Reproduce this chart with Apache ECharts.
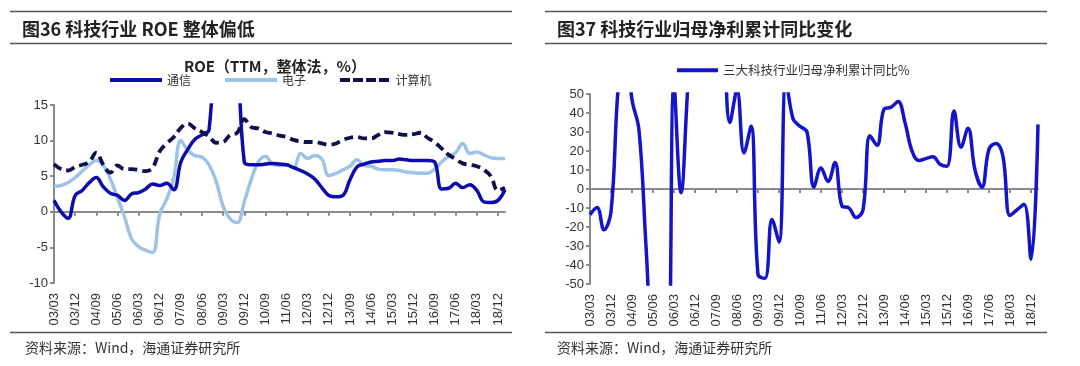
<!DOCTYPE html>
<html><head><meta charset="utf-8">
<script src="https://cdn.jsdelivr.net/npm/echarts@6/dist/echarts.min.js"></script>
<style>html,body{margin:0;padding:0;background:#fff}#c{width:1080px;height:366px}</style>
</head><body><div id="c"></div>
<script>
// Quarterly categories 03/03 .. 19/03
const quarters = ['03/03','03/06','03/09','03/12','04/03','04/06','04/09','04/12','05/03','05/06','05/09','05/12',
  '06/03','06/06','06/09','06/12','07/03','07/06','07/09','07/12','08/03','08/06','08/09','08/12',
  '09/03','09/06','09/09','09/12','10/03','10/06','10/09','10/12','11/03','11/06','11/09','11/12',
  '12/03','12/06','12/09','12/12','13/03','13/06','13/09','13/12','14/03','14/06','14/09','14/12',
  '15/03','15/06','15/09','15/12','16/03','16/06','16/09','16/12','17/03','17/06','17/09','17/12',
  '18/03','18/06','18/09','18/12','19/03'];

// Fig 36: ROE (TTM, %)
const tongxin = [1.6,0.0,-0.9,2.3,3.0,4.1,4.8,3.5,2.6,2.3,
  1.6,2.5,2.7,3.2,3.9,3.7,4.0,3.1,7.0,8.8,
  10.2,10.8,11.5,28,35,35,24,7.0,6.6,6.6,
  6.7,6.8,6.7,6.6,6.2,5.8,5.3,4.6,3.4,2.3,
  2.1,2.3,4.5,6.3,6.7,7.0,7.1,7.2,7.2,7.4,
  7.3,7.2,7.2,7.2,7.0,3.2,3.3,4.0,3.4,3.8,
  3.0,1.4,1.3,1.6,3.1];
const dianzi = [3.6,3.7,4.1,4.8,5.7,6.6,7.2,6.5,4.6,2.0,
  -0.7,-3.8,-4.9,-5.4,-5.7,-0.3,1.8,4.8,10.0,8.6,
  7.9,7.7,6.6,4.3,0.8,-1.0,-1.5,1.4,4.6,7.0,
  7.8,6.7,6.5,6.6,6.2,8.2,7.5,7.9,7.4,5.1,
  5.4,5.9,6.4,7.3,6.5,6.4,6.0,5.9,5.9,5.8,
  5.6,5.5,5.4,5.4,6.0,7.0,7.8,8.3,9.6,8.2,
  8.4,8.0,7.6,7.5,7.5];
const jisuanji = [6.7,6.0,5.8,6.3,6.6,7.0,8.3,6.6,5.5,6.5,
  6.0,6.0,5.9,5.7,6.2,8.5,9.6,10.5,11.8,12.4,
  11.7,11.2,10.6,9.7,9.8,10.8,11.1,13.0,11.9,11.7,
  11.2,11.0,10.7,10.5,10.1,9.9,9.8,9.8,9.6,9.4,
  9.6,10.1,10.4,10.5,10.3,10.3,10.8,11.2,11.1,10.9,
  10.8,10.9,11.1,10.4,9.8,8.9,8.0,7.4,6.8,6.6,
  6.4,5.9,5.0,3.0,3.4];

// Fig 37: cumulative YoY net profit (%)
const profitYoY = [-13.5,-9.8,-21.5,-12,52,80,47,31,-30,-90,
  -100,-100,55,-2,55,100,150,150,120,90,
  35,52,19,33,-45,-47,-16,-28,58,37,
  33,30,1,11,4,14,-9,-10,-15,-11,
  28,23,42,43,46,35,20,15,16,17,
  13,12,41,22,32,10,1,21,24,17,
  -14,-11,-8,-37,34];

const roeAxis = {min:-10, max:15, step:5};
const yoyAxis = {min:-50, max:50, step:10};

const CJK = '"Noto Sans CJK SC", sans-serif';
const LAT = '"Liberation Sans", Arial, sans-serif';
const axisGray = '#8a8a8a';

function labelAxis(grid){
  return {gridIndex:grid, type:'category', data:quarters, boundaryGap:false, position:'bottom',
    axisLine:{show:false, onZero:false}, axisTick:{show:false},
    axisLabel:{interval:2, rotate:90, margin:10, fontSize:13, color:'#333', fontFamily:LAT}};
}
function zeroAxis(grid){
  return {gridIndex:grid, type:'category', data:quarters, boundaryGap:false, position:'bottom',
    axisLine:{show:true, onZero:true, lineStyle:{color:axisGray, width:2}},
    axisTick:{show:true, interval:2, length:4, lineStyle:{color:axisGray, width:2}},
    axisLabel:{show:false}};
}
function valAxis(grid, a){
  return {gridIndex:grid, type:'value', min:a.min, max:a.max, interval:a.step,
    axisLine:{show:true, lineStyle:{color:axisGray, width:2}},
    axisTick:{show:true, length:4, lineStyle:{color:axisGray, width:2}},
    splitLine:{show:false},
    axisLabel:{fontSize:13, color:'#333', margin:6, fontFamily:LAT}};
}

const dashIcon = 'path://M0,0H10V4H0Z M13,0H23V4H13Z M26,0H36V4H26Z M39,0H49V4H39Z';

const chart = echarts.init(document.getElementById('c'), null, {renderer:'canvas'});
chart.setOption({
  backgroundColor:'#fff',
  animation:false,
  title:[
    {text:'图36 科技行业 ROE 整体偏低', left:22, top:20, padding:0,
      textStyle:{fontSize:18, fontWeight:'bold', color:'#222', fontFamily:CJK}},
    {text:'图37 科技行业归母净利累计同比变化', left:557, top:20, padding:0,
      textStyle:{fontSize:18, fontWeight:'bold', color:'#222', fontFamily:CJK}},
    {text:'ROE（TTM，整体法，%）', left:184, top:59, padding:0,
      textStyle:{fontSize:15, fontWeight:'bold', color:'#222', fontFamily:CJK}}
  ],
  legend:[
    {left:110, top:74, padding:0, itemWidth:52, itemHeight:4, itemGap:34,
      textStyle:{fontSize:12, color:'#333', fontFamily:CJK, padding:[-1,0,0,0]},
      data:[{name:'通信', icon:'rect'},{name:'电子', icon:'rect'},{name:'计算机', icon:dashIcon}]},
    {left:677, top:64, padding:0, itemWidth:41, itemHeight:4,
      textStyle:{fontSize:12.5, color:'#333', fontFamily:CJK, padding:[-1,0,0,0]},
      data:[{name:'三大科技行业归母净利累计同比%', icon:'rect'}]}
  ],
  grid:[
    {left:54, top:105, width:451, height:178},
    {left:590, top:94, width:448, height:190}
  ],
  xAxis:[labelAxis(0), zeroAxis(0), labelAxis(1), zeroAxis(1)],
  yAxis:[valAxis(0, roeAxis), valAxis(1, yoyAxis)],
  series:[
    {name:'电子', type:'line', xAxisIndex:0, yAxisIndex:0, data:dianzi, smooth:0.4, showSymbol:false,
      lineStyle:{color:'#9DC3E6', width:3.5}, itemStyle:{color:'#9DC3E6'}},
    {name:'通信', type:'line', xAxisIndex:0, yAxisIndex:0, data:tongxin, smooth:0.4, showSymbol:false,
      lineStyle:{color:'#0C0CAA', width:3.5}, itemStyle:{color:'#0C0CAA'}},
    {name:'计算机', type:'line', xAxisIndex:0, yAxisIndex:0, data:jisuanji, smooth:0.4, showSymbol:false,
      lineStyle:{color:'#10104E', width:3.8, type:[9,5]}, itemStyle:{color:'#10104E'}},
    {name:'三大科技行业归母净利累计同比%', type:'line', xAxisIndex:2, yAxisIndex:1, data:profitYoY, smooth:0.4, showSymbol:false,
      lineStyle:{color:'#1414C8', width:3.5}, itemStyle:{color:'#1414C8'}}
  ],
  graphic:[
    {type:'line', shape:{x1:10,y1:11.5,x2:512,y2:11.5}, style:{stroke:'#555', lineWidth:1.5}},
    {type:'line', shape:{x1:10,y1:43.5,x2:512,y2:43.5}, style:{stroke:'#555', lineWidth:1.5}},
    {type:'line', shape:{x1:10,y1:332.5,x2:512,y2:332.5}, style:{stroke:'#555', lineWidth:1.5}},
    {type:'line', shape:{x1:545,y1:11.5,x2:1047,y2:11.5}, style:{stroke:'#555', lineWidth:1.5}},
    {type:'line', shape:{x1:545,y1:43.5,x2:1047,y2:43.5}, style:{stroke:'#555', lineWidth:1.5}},
    {type:'line', shape:{x1:545,y1:332.5,x2:1047,y2:332.5}, style:{stroke:'#555', lineWidth:1.5}},
    {type:'text', x:25, y:348, style:{text:'资料来源：Wind，海通证券研究所', fontSize:14, fill:'#333', fontFamily:CJK, verticalAlign:'middle'}},
    {type:'text', x:557, y:348, style:{text:'资料来源：Wind，海通证券研究所', fontSize:14, fill:'#333', fontFamily:CJK, verticalAlign:'middle'}}
  ]
});
</script></body></html>
